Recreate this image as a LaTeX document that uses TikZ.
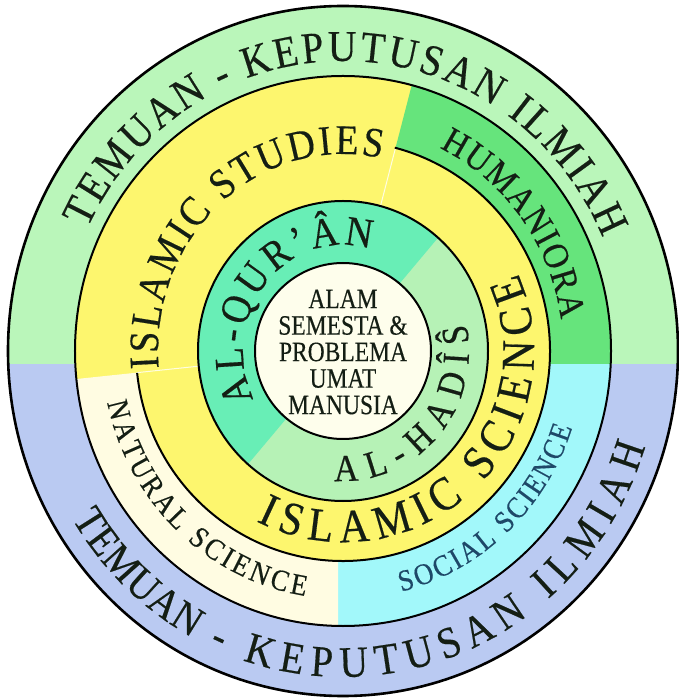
\documentclass[tikz,border=0pt]{standalone}
\usepackage{fontspec}
\setmainfont{Liberation Serif}
\newfontfamily\condfont{Liberation Serif}[FakeStretch=0.84, FakeBold=0.3]
\newfontfamily\arcfont{Liberation Serif}[FakeStretch=0.9, FakeBold=0.4]
\usetikzlibrary{decorations.text}
\definecolor{outgreen}{RGB}{186,246,186}
\definecolor{outblue}{RGB}{186,202,242}
\definecolor{isyellow}{RGB}{253,246,110}
\definecolor{humgreen}{RGB}{102,228,124}
\definecolor{soccyan}{RGB}{162,248,250}
\definecolor{natcream}{RGB}{255,252,226}
\definecolor{qurgreen}{RGB}{104,238,182}
\definecolor{hadgreen}{RGB}{182,242,182}
\definecolor{centercream}{RGB}{254,254,236}
\definecolor{socblue}{RGB}{30,72,104}
\definecolor{txt}{RGB}{20,30,20}
\tikzset{
  ringline/.style={line width=2pt, black},
  arctext/.style={decorate, decoration={text along path, text align={fit to path}, text color=txt, text={#1}}},
  arctextc/.style={decorate, decoration={text along path, text align=center, text color=txt, text={#1}}},
}
\begin{document}
\begin{tikzpicture}[x=1pt,y=1pt]
\useasboundingbox (-343,-349) rectangle (335,351);
% outer ring
\fill[outgreen] (0,0) ellipse [x radius=335, y radius=345];
\begin{scope}
  \clip (0,0) ellipse [x radius=335, y radius=345];
  \fill[outblue] (-400,-13) rectangle (400,-400);
\end{scope}
% second ring
\begin{scope}
  \clip (0,0) ellipse [x radius=268, y radius=275];
  \fill[isyellow] (-300,-300) rectangle (300,300);
  \fill[humgreen] (0,0) -- (75.5:600) -- (400,581) -- (400,-13) -- (0,-13) -- cycle;
  \fill[soccyan] (-5,-13) -- (400,-13) -- (400,-400) -- (-5,-400) -- cycle;
  \fill[natcream] (0,0) -- (186:600) -- (-600,-400) -- (-5,-400) -- (-5,0) -- cycle;
\end{scope}
% islamic science ring
\fill[isyellow] (0,0) ellipse [x radius=207, y radius=210];
\draw[white, opacity=0.8, line width=1pt] (0,0) -- (75.5:209.5);
\draw[white, opacity=0.8, line width=1pt] (0,0) -- (186:207);
% al-qur'an / al-hadis ring
\fill[hadgreen] (0,0) ellipse [x radius=145, y radius=150];
\begin{scope}
  \clip (0,0) ellipse [x radius=145, y radius=150];
  \fill[qurgreen] (50:400) -- (140:400) -- (230:400) -- cycle;
\end{scope}
% centre
\fill[centercream] (0,0) ellipse [x radius=88, y radius=88];
% outlines
\draw[ringline, line width=2.6pt] (0,0) ellipse [x radius=335, y radius=345];
\draw[ringline] (0,0) ellipse [x radius=268, y radius=275];
\draw[ringline] (186:207 and 210) arc[start angle=186, end angle=435.5, x radius=207, y radius=210];
\draw[ringline] (0,0) ellipse [x radius=145, y radius=150];
\draw[ringline] (0,0) ellipse [x radius=88, y radius=88];
% texts along arcs
\path[arctext={|\arcfont\fontsize{44}{44}\selectfont|TEMUAN -}]
  (155:282 and 290) arc[start angle=155, end angle=113, x radius=282, y radius=290];
\path[arctext={|\arcfont\fontsize{44}{44}\selectfont|KEPUTUSAN ILMIAH}]
  (110:282 and 290) arc[start angle=110, end angle=23, x radius=282, y radius=290];
\path[arctext={|\arcfont\fontsize{43}{43}\selectfont|TEMUAN}]
  (211:316 and 326) arc[start angle=211, end angle=241.5, x radius=316, y radius=326];
\path[arctextc={|\arcfont\fontsize{43}{43}\selectfont|-}]
  (243:316 and 326) arc[start angle=243, end angle=249, x radius=316, y radius=326];
\path[arctext={|\arcfont\fontsize{44}{44}\selectfont|KEPUTUSAN ILMIAH}]
  (251.5:316 and 326) arc[start angle=251.5, end angle=343, x radius=316, y radius=326];
\path[arctext={|\arcfont\fontsize{42}{42}\selectfont|ISLAMIC STUDIES}]
  (185:185 and 197) arc[start angle=185, end angle=78, x radius=185, y radius=197];
\path[arctext={|\arcfont\fontsize{37}{37}\selectfont|HUMANIORA}]
  (64:220 and 226) arc[start angle=64, end angle=8, x radius=220, y radius=226];
\path[arctext={|\arcfont\fontsize{42}{42}\selectfont|AL-QUR’ÂN}]
  (207:100 and 106) arc[start angle=207, end angle=74, x radius=100, y radius=106];
\path[arctext={|\arcfont\fontsize{38}{38}\selectfont|AL-HADÎŜ}]
  (266:126 and 130) arc[start angle=266, end angle=372, x radius=126, y radius=130];
\path[arctext={|\arcfont\fontsize{47}{47}\selectfont|ISLAMIC SCIENCE}]
  (243:191 and 191) arc[start angle=243, end angle=384, x radius=191, y radius=191];
\path[arctext={|\arcfont\fontsize{30}{30}\selectfont|NATURAL SCIENCE}]
  (192:241 and 248) arc[start angle=192, end angle=261, x radius=241, y radius=248];
\path[decorate, decoration={text along path, text align={fit to path}, text color=socblue,
  text={|\arcfont\fontsize{30}{30}\selectfont|SOCIAL SCIENCE}}]
  (284:241 and 248) arc[start angle=284, end angle=342, x radius=241, y radius=248];
% centre text
\node[align=center, text=txt, font=\condfont\fontsize{28}{26.5}\selectfont] (centre) at (0,-1)
  {ALAM\\SEMESTA \&\\PROBLEMA\\UMAT\\MANUSIA};
\end{tikzpicture}
\end{document}
